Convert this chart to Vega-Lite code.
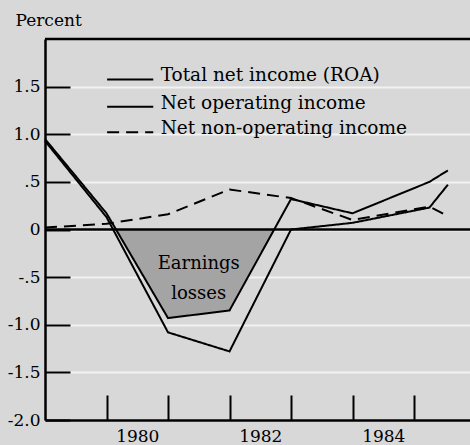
{
  "$schema": "https://vega.github.io/schema/vega-lite/v6.json",
  "width": 425,
  "height": 381,
  "autosize": {"type": "none"},
  "padding": {"left": 45, "top": 39, "right": 0, "bottom": 25},
  "background": "#d8d8d8",
  "config": {
    "view": {"stroke": null},
    "font": "DejaVu Serif",
    "axis": {"labelFont": "DejaVu Serif", "titleFont": "DejaVu Serif", "labelColor": "black", "titleColor": "black", "labelFontSize": 17, "labelOverlap": false, "labelFlush": false, "domainColor": "black", "domainWidth": 2.5, "tickSize": -25, "tickWidth": 2},
    "axisY": {"grid": true, "gridColor": "#f2f2f2", "gridWidth": 2, "tickColor": "black", "labelPadding": 30},
    "axisX": {"grid": false, "labelPadding": 33}
  },
  "datasets": {
    "series": [
      {"year": 1979, "value": 0.95, "series": "Total net income (ROA)"},
      {"year": 1980, "value": 0.17, "series": "Total net income (ROA)"},
      {"year": 1981, "value": -0.93, "series": "Total net income (ROA)"},
      {"year": 1982, "value": -0.85, "series": "Total net income (ROA)"},
      {"year": 1983, "value": 0.32, "series": "Total net income (ROA)"},
      {"year": 1984, "value": 0.17, "series": "Total net income (ROA)"},
      {"year": 1985.25, "value": 0.5, "series": "Total net income (ROA)"},
      {"year": 1985.55, "value": 0.62, "series": "Total net income (ROA)"},
      {"year": 1979, "value": 0.93, "series": "Net operating income"},
      {"year": 1980, "value": 0.13, "series": "Net operating income"},
      {"year": 1981, "value": -1.08, "series": "Net operating income"},
      {"year": 1982, "value": -1.28, "series": "Net operating income"},
      {"year": 1983, "value": 0.0, "series": "Net operating income"},
      {"year": 1984, "value": 0.07, "series": "Net operating income"},
      {"year": 1985.25, "value": 0.23, "series": "Net operating income"},
      {"year": 1985.55, "value": 0.47, "series": "Net operating income"},
      {"year": 1979, "value": 0.02, "series": "Net non-operating income"},
      {"year": 1980, "value": 0.06, "series": "Net non-operating income"},
      {"year": 1981, "value": 0.16, "series": "Net non-operating income"},
      {"year": 1982, "value": 0.42, "series": "Net non-operating income"},
      {"year": 1983, "value": 0.33, "series": "Net non-operating income"},
      {"year": 1984, "value": 0.1, "series": "Net non-operating income"},
      {"year": 1985.25, "value": 0.24, "series": "Net non-operating income"},
      {"year": 1985.55, "value": 0.14, "series": "Net non-operating income"}
    ],
    "losses": [
      {"year": 1980.14, "value": 0},
      {"year": 1981, "value": -0.93},
      {"year": 1982, "value": -0.85},
      {"year": 1982.73, "value": 0}
    ],
    "legend": [
      {"series": "Total net income (ROA)", "row": 1.575},
      {"series": "Net operating income", "row": 1.29},
      {"series": "Net non-operating income", "row": 1.02}
    ]
  },
  "layer": [
    {
      "data": {"name": "losses"},
      "mark": {"type": "area", "color": "#a4a4a4", "opacity": 1},
      "encoding": {
        "x": {
          "field": "year", "type": "quantitative",
          "scale": {"domain": [1979, 1985.91], "nice": false, "zero": false},
          "axis": {
            "title": null,
            "values": [1980, 1980.5, 1981, 1982, 1982.5, 1983, 1984, 1984.5, 1985],
            "tickColor": {"condition": {"test": "datum.value % 1 == 0", "value": "black"}, "value": "transparent"},
            "labelExpr": "datum.value % 1 == 0.5 ? toString(floor(datum.value)) : ''"
          }
        },
        "y": {
          "field": "value", "type": "quantitative",
          "scale": {"domain": [-2, 2], "nice": false},
          "axis": {
            "title": "Percent",
            "titleAngle": 0, "titleX": -30, "titleY": -14, "titleAlign": "left", "titleBaseline": "alphabetic",
            "titleFontSize": 17, "titleFontWeight": "normal",
            "values": [-2, -1.5, -1, -0.5, 0, 0.5, 1, 1.5],
            "labelExpr": "datum.value == 0 ? '0' : datum.value == 0.5 ? '.5' : datum.value == -0.5 ? '-.5' : (datum.value < 0 ? '-' : '') + format(abs(datum.value), '.1f')"
          }
        },
        "y2": {"datum": 0}
      }
    },
    {
      "data": {"name": "series"},
      "mark": {"type": "line", "color": "black", "strokeWidth": 2},
      "encoding": {
        "x": {
          "field": "year", "type": "quantitative",
          "scale": {"domain": [1979, 1985.91], "nice": false, "zero": false},
          "axis": {
            "title": null,
            "values": [1980, 1980.5, 1981, 1982, 1982.5, 1983, 1984, 1984.5, 1985],
            "tickColor": {"condition": {"test": "datum.value % 1 == 0", "value": "black"}, "value": "transparent"},
            "labelExpr": "datum.value % 1 == 0.5 ? toString(floor(datum.value)) : ''"
          }
        },
        "y": {
          "field": "value", "type": "quantitative",
          "scale": {"domain": [-2, 2], "nice": false},
          "axis": {
            "title": "Percent",
            "titleAngle": 0, "titleX": -30, "titleY": -14, "titleAlign": "left", "titleBaseline": "alphabetic",
            "titleFontSize": 17, "titleFontWeight": "normal",
            "values": [-2, -1.5, -1, -0.5, 0, 0.5, 1, 1.5],
            "labelExpr": "datum.value == 0 ? '0' : datum.value == 0.5 ? '.5' : datum.value == -0.5 ? '-.5' : (datum.value < 0 ? '-' : '') + format(abs(datum.value), '.1f')"
          }
        },
        "strokeDash": {
          "field": "series", "type": "nominal",
          "scale": {"domain": ["Total net income (ROA)", "Net operating income", "Net non-operating income"], "range": [[1, 0], [1, 0], [12, 7]]},
          "legend": null
        }
      }
    },
    {
      "data": {"name": "legend"},
      "mark": {"type": "rule", "color": "black", "strokeWidth": 2},
      "encoding": {
        "x": {"datum": 1980.01},
        "x2": {"datum": 1980.76},
        "y": {"field": "row", "type": "quantitative"},
        "strokeDash": {"field": "series", "type": "nominal", "legend": null}
      }
    },
    {
      "data": {"name": "legend"},
      "mark": {"type": "text", "fontSize": 18.5, "font": "DejaVu Serif", "color": "black", "align": "left", "baseline": "middle", "dy": -4},
      "encoding": {
        "x": {"datum": 1980.88},
        "y": {"field": "row", "type": "quantitative"},
        "text": {"field": "series"}
      }
    },
    {
      "data": {"values": [{}]},
      "mark": {"type": "rule", "color": "black", "strokeWidth": 2.5},
      "encoding": {"y": {"datum": 0}}
    },
    {
      "data": {"values": [{}]},
      "mark": {"type": "rule", "color": "black", "strokeWidth": 2.5},
      "encoding": {"y": {"datum": 2}}
    },
    {
      "data": {"values": [{}]},
      "mark": {"type": "text", "fontSize": 18, "font": "DejaVu Serif", "color": "black", "lineHeight": 30, "align": "center", "baseline": "middle"},
      "encoding": {
        "x": {"datum": 1981.5},
        "y": {"datum": -0.363},
        "text": {"value": ["Earnings", "losses"]}
      }
    }
  ]
}
